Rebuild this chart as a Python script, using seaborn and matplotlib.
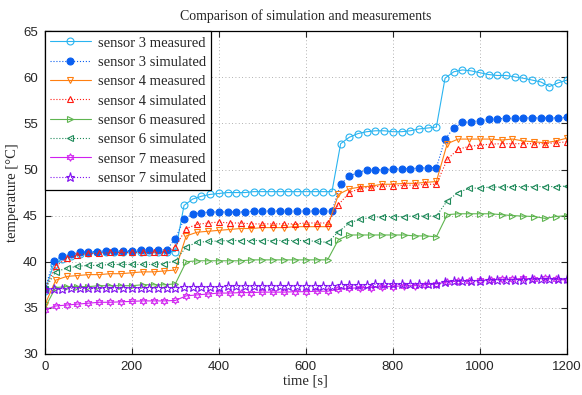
import numpy as np
import pandas as pd
import seaborn as sns
import matplotlib.pyplot as plt

# sample times (sensor 3 and sensor 7 simulated every 20 s, others every 25 s)
t20 = list(range(0, 1201, 20))
t25 = list(range(0, 1201, 25))

s3_meas = [36.8, 39.6, 40.3, 40.6, 40.8, 40.9, 41.0, 41.0, 41.0, 41.1, 41.1, 41.1, 41.1, 41.1, 41.1, 41.1,
           46.1, 46.8, 47.1, 47.3, 47.4, 47.5, 47.5, 47.5, 47.6, 47.6, 47.6, 47.6, 47.6, 47.6, 47.6, 47.6, 47.6, 47.6,
           52.8, 53.5, 53.9, 54.1, 54.2, 54.2, 54.1, 54.1, 54.2, 54.4, 54.5, 54.6,
           59.9, 60.6, 60.8, 60.7, 60.5, 60.3, 60.2, 60.2, 60.05, 59.9, 59.7, 59.5, 59.0, 59.4, 59.7]
s3_sim = [37.0, 40.1, 40.6, 40.8, 41.0, 41.1, 41.1, 41.2, 41.2, 41.2, 41.2, 41.3, 41.3, 41.3, 41.3,
          42.5, 44.6, 45.2, 45.3, 45.4,
          45.4, 45.4, 45.4, 45.4, 45.5, 45.5, 45.5, 45.5, 45.5, 45.5, 45.5, 45.5, 45.5, 45.5,
          48.4, 49.3, 49.65, 49.9, 49.95, 50.0, 50.05, 50.1, 50.1, 50.15, 50.2, 50.2,
          53.3, 54.5, 55.1, 55.2, 55.3, 55.45, 55.5, 55.55, 55.55, 55.6, 55.6, 55.6, 55.6, 55.6, 55.65]
s4_meas = [35.3, 38.0, 38.4, 38.5, 38.6, 38.6, 38.7, 38.7, 38.8, 38.9, 38.9, 39.0, 39.1,
           42.8, 43.2, 43.3, 43.4, 43.5, 43.6, 43.6, 43.7, 43.7, 43.7, 43.8, 43.8, 43.8, 43.8,
           47.3, 47.9, 48.1, 48.2, 48.4, 48.4, 48.5, 48.5, 48.6, 48.7,
           52.8, 53.3, 53.3, 53.3, 53.3, 53.2, 53.3, 53.1, 53.0, 52.9, 53.1, 53.4]
s4_sim = [37.0, 39.5, 40.4, 40.7, 40.9, 40.9, 41.0, 41.0, 41.0, 41.0, 41.0, 41.0, 41.6,
          43.6, 44.05, 44.2, 44.3, 44.2, 44.2, 44.1, 44.1, 44.1, 44.1, 44.1, 44.2, 44.2, 44.2,
          46.2, 47.5, 47.95, 48.1, 48.2, 48.2, 48.3, 48.3, 48.4, 48.4,
          51.1, 52.2, 52.5, 52.65, 52.75, 52.8, 52.8, 52.8, 52.8, 52.8, 52.9, 53.0]
s6_meas = [35.0, 37.2, 37.3, 37.3, 37.3, 37.4, 37.4, 37.4, 37.4, 37.5, 37.5, 37.5, 37.6,
           40.0, 40.1, 40.1, 40.1, 40.1, 40.1, 40.2, 40.2, 40.2, 40.2, 40.2, 40.2, 40.2, 40.2,
           42.4, 42.9, 42.9, 42.9, 42.9, 42.9, 42.9, 42.8, 42.8, 42.7,
           45.1, 45.2, 45.2, 45.2, 45.2, 45.1, 45.0, 44.95, 44.9, 44.7, 44.9, 45.0]
s6_sim = [37.0, 38.9, 39.3, 39.5, 39.6, 39.6, 39.7, 39.7, 39.7, 39.7, 39.7, 39.8, 40.1,
          41.6, 42.1, 42.2, 42.25, 42.3, 42.3, 42.3, 42.3, 42.3, 42.3, 42.3, 42.3, 42.2, 42.1,
          43.25, 44.2, 44.6, 44.8, 44.9, 44.9, 44.9, 44.95, 44.95, 44.96,
          46.6, 47.5, 47.95, 48.0, 48.1, 48.1, 48.15, 48.15, 48.15, 48.15, 48.15, 48.2]
s7_meas = [34.8, 35.2, 35.3, 35.4, 35.5, 35.6, 35.6, 35.65, 35.7, 35.75, 35.75, 35.75, 35.8,
           36.3, 36.4, 36.5, 36.6, 36.6, 36.65, 36.65, 36.7, 36.7, 36.7, 36.75, 36.75, 36.8, 36.8,
           37.0, 37.1, 37.2, 37.2, 37.3, 37.3, 37.4, 37.4, 37.5, 37.6,
           37.8, 37.9, 37.9, 38.0, 38.0, 38.1, 38.1, 38.2, 38.1, 38.2, 38.1, 38.0]
s7_sim = [37.0, 37.0, 37.05, 37.1, 37.1, 37.1, 37.1, 37.15, 37.15, 37.15, 37.2, 37.2, 37.2, 37.2, 37.2, 37.2,
          37.3, 37.3, 37.3, 37.3, 37.3, 37.35, 37.35, 37.35, 37.35, 37.35, 37.4, 37.4, 37.4, 37.4, 37.4, 37.4, 37.4, 37.4,
          37.5, 37.5, 37.5, 37.5, 37.55, 37.55, 37.55, 37.55, 37.6, 37.6, 37.6, 37.6,
          37.85, 37.9, 37.9, 37.95, 37.95, 38.0, 38.0, 38.0, 38.05, 38.05, 38.1, 38.1, 38.1, 38.1, 38.1]

series = [
    ('sensor 3 measured', t20, s3_meas, '#2ab4f0', 'o', '-', 'none'),
    ('sensor 3 simulated', t20, s3_sim, '#0a5ff0', 'o', ':', 'fill'),
    ('sensor 4 measured', t25, s4_meas, '#ff7f10', 'v', '-', 'none'),
    ('sensor 4 simulated', t25, s4_sim, '#ff1a10', '^', ':', 'none'),
    ('sensor 6 measured', t25, s6_meas, '#5fb550', '>', '-', 'none'),
    ('sensor 6 simulated', t25, s6_sim, '#1f8a5a', '<', ':', 'none'),
    ('sensor 7 measured', t25, s7_meas, '#d020f0', (6, 1, 0), '-', 'none'),
    ('sensor 7 simulated', t20, s7_sim, '#8010f0', '*', ':', 'none'),
]

sns.set_style('white')
plt.rcParams['font.family'] = ['Liberation Serif', 'DejaVu Serif']

fig, ax = plt.subplots(figsize=(5.82, 3.95), dpi=100)
fig.subplots_adjust(left=0.077, right=0.974, bottom=0.104, top=0.921)

for name, t, v, c, m, ls, fill in series:
    df = pd.DataFrame({'time': t, 'temp': v})
    size = {'*': 6.5, 'o': 5.0}.get(m, 5.0) if isinstance(m, str) else 5.5
    sns.lineplot(data=df, x='time', y='temp', ax=ax, color=c, marker=m, linestyle=ls,
                 linewidth=0.8, markersize=size,
                 markerfacecolor=c if fill == 'fill' else 'none',
                 markeredgecolor=c, markeredgewidth=0.8, label=name, errorbar=None)

ax.set_xlim(0, 1200)
ax.set_ylim(30, 65)
ax.set_xticks(range(0, 1201, 200))
ax.set_yticks(range(30, 66, 5))
for lab in ax.get_xticklabels() + ax.get_yticklabels():
    lab.set_family('Liberation Sans')
ax.tick_params(direction='in', length=4, top=True, right=True, labelsize=9.5, pad=5,
               bottom=True, left=True, width=0.8)
ax.grid(True, linestyle=(0, (1, 3)), color='#999999', linewidth=0.6)
for s in ax.spines.values():
    s.set_color('black')
    s.set_linewidth(0.9)

ax.set_title('Comparison of simulation and measurements', fontsize=10, pad=8)
ax.set_xlabel('time [s]', fontsize=10.5, labelpad=1)
ax.set_ylabel('temperature [°C]', fontsize=10.5, labelpad=3)

leg = ax.legend(loc='upper left', fontsize=10.5, frameon=True, fancybox=False,
                edgecolor='black', framealpha=1, borderaxespad=0, handlelength=2.8,
                labelspacing=0.42, borderpad=0.35, handletextpad=0.5)
leg.get_frame().set_linewidth(0.9)

plt.savefig('out.png', dpi=100)
